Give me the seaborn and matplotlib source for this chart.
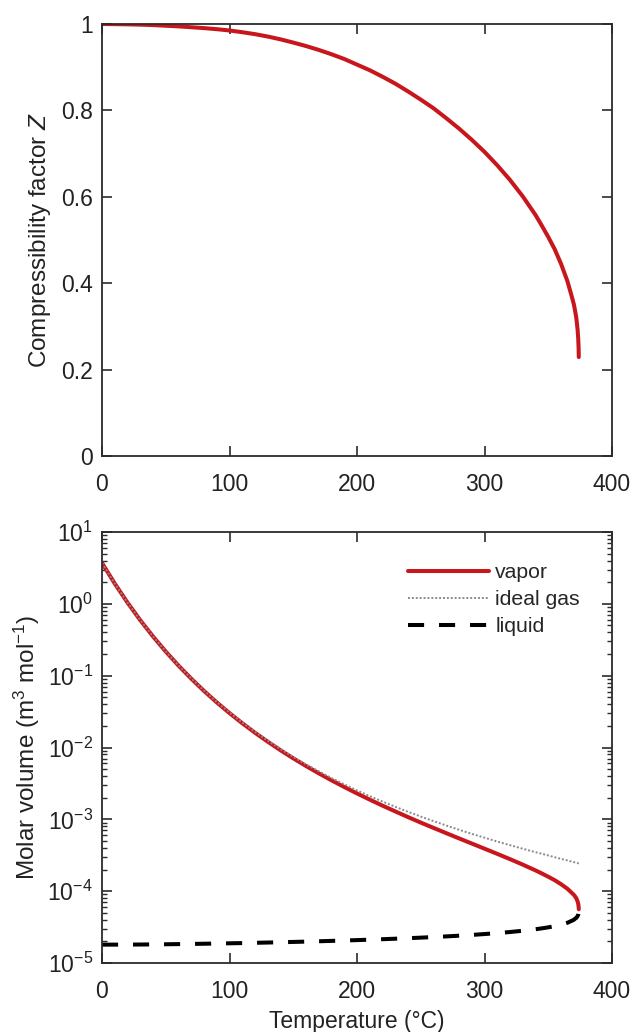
import numpy as np
import pandas as pd
import matplotlib
matplotlib.use("Agg")
import matplotlib.pyplot as plt
import matplotlib.ticker as mticker
import seaborn as sns

# ---------------- data ----------------
# Temperatures (°C) along the saturation curve
temp_c = [0, 10, 20, 30, 40, 50, 60, 70, 80, 90, 100, 110, 120, 130, 140,
          150, 160, 170, 180, 190, 200, 210, 220, 230, 240, 250, 260, 270,
          280, 290, 300, 310, 320, 330, 340, 345, 350, 355, 360, 365, 368,
          370, 371, 372, 373, 373.5, 373.8, 373.95]

# Compressibility factor Z of saturated vapor
z_vapor = [1.000, 0.9997, 0.9992, 0.9985, 0.9975, 0.996, 0.9945, 0.9925,
           0.9905, 0.988, 0.985, 0.981, 0.9765, 0.971, 0.9645, 0.957, 0.949,
           0.940, 0.930, 0.919, 0.906, 0.893, 0.878, 0.862, 0.844, 0.825,
           0.805, 0.782, 0.758, 0.732, 0.704, 0.673, 0.639, 0.601, 0.558,
           0.533, 0.507, 0.479, 0.445, 0.405, 0.374, 0.352, 0.337, 0.320,
           0.293, 0.272, 0.251, 0.229]

# Molar volumes (m^3 mol^-1)
v_vapor = [3.71, 1.915, 1.0405, 0.592, 0.3517, 0.2166, 0.1381, 0.0908,
           0.0613, 0.0425, 0.03012, 0.02179, 0.01605, 0.01204, 0.00916,
           0.007071, 0.005527, 0.004374, 0.003492, 0.002820, 0.002292,
           0.001881, 0.001551, 0.001290, 0.001075, 0.000901, 0.000760,
           0.000642, 0.000543, 0.0004606, 0.0003904, 0.0003306, 0.000279,
           0.0002342, 0.0001946, 0.0001762, 0.0001588, 0.0001423,
           0.0001252, 0.0001081, 9.64e-5, 8.92e-5, 8.47e-5, 7.96e-5,
           7.21e-5, 6.67e-5, 6.13e-5, 5.6e-5]

v_ideal = [3.71, 1.916, 1.0415, 0.593, 0.3528, 0.2175, 0.1389, 0.0915,
           0.0619, 0.0430, 0.03058, 0.02221, 0.01644, 0.01242, 0.00949,
           0.007389, 0.005818, 0.004658, 0.003756, 0.003070, 0.00253,
           0.002105, 0.001769, 0.001495, 0.001274, 0.001094, 0.000945,
           0.000821, 0.000716, 0.000628, 0.000555, 0.000491, 0.000437,
           0.000390, 0.000349, 0.000332, 0.000314, 0.000297, 0.000282,
           0.000268, 0.000259, 0.000254, 0.000251, 0.000249, 0.000246,
           0.000245, 0.000244, 0.000244]

v_liquid = [1.802e-5, 1.802e-5, 1.805e-5, 1.808e-5, 1.8155e-5, 1.823e-5,
            1.8325e-5, 1.843e-5, 1.854e-5, 1.866e-5, 1.880e-5, 1.894e-5,
            1.910e-5, 1.927e-5, 1.945e-5, 1.965e-5, 1.985e-5, 2.007e-5,
            2.031e-5, 2.056e-5, 2.083e-5, 2.112e-5, 2.144e-5, 2.178e-5,
            2.214e-5, 2.254e-5, 2.298e-5, 2.346e-5, 2.400e-5, 2.460e-5,
            2.529e-5, 2.607e-5, 2.700e-5, 2.811e-5, 2.950e-5, 3.037e-5,
            3.136e-5, 3.257e-5, 3.414e-5, 3.630e-5, 3.840e-5, 3.990e-5,
            4.130e-5, 4.250e-5, 4.500e-5, 4.680e-5, 5.040e-5, 5.6e-5]

x_ticks = [0, 100, 200, 300, 400]
z_ticks = [0, 0.2, 0.4, 0.6, 0.8, 1]
v_ticks = [1e-5, 1e-4, 1e-3, 1e-2, 1e-1, 1e0, 1e1]

# ---------------- style ----------------
sns.set_style("ticks")
plt.rcParams["font.family"] = ["Liberation Sans", "DejaVu Sans"]
plt.rcParams["mathtext.fontset"] = "custom"
plt.rcParams["mathtext.rm"] = "Liberation Sans"
plt.rcParams["mathtext.it"] = "Liberation Sans:italic"
plt.rcParams["mathtext.default"] = "regular"

FS_TICK = 16.5
FS_LAB = 17.5
SPINE = "#2b2b2b"
TXT = "#222222"
RED = "#c8161d"
LW = 2.9

df = pd.DataFrame({"T": temp_c, "Z": z_vapor, "vap": v_vapor,
                   "ideal": v_ideal, "liq": v_liquid})

fig = plt.figure(figsize=(6.33, 10.32), dpi=100)
L, W = 102/633, 510/633
ax1 = fig.add_axes([L, 1-456/1032, W, 432/1032])
ax2 = fig.add_axes([L, 1-963/1032, W, 431/1032])

# top panel
sns.lineplot(data=df, x="T", y="Z", ax=ax1, color=RED, lw=LW,
             sort=False, estimator=None)
ax1.set_xlim(0, 400)
ax1.set_ylim(0, 1)
ax1.set_xticks(x_ticks)
ax1.set_yticks(z_ticks)
ax1.yaxis.set_major_formatter(mticker.FuncFormatter(lambda v, p: f"{v:g}"))
ax1.set_xlabel("")
ax1.set_ylabel("Compressibility factor $\\mathit{Z}$", fontsize=FS_LAB)
ax1.yaxis.set_label_coords(-0.097, 0.5)

# bottom panel
sns.lineplot(data=df, x="T", y="vap", ax=ax2, color=RED, lw=LW,
             sort=False, estimator=None, label="vapor")
sns.lineplot(data=df, x="T", y="ideal", ax=ax2, color="#8a8a8a", lw=1.4,
             sort=False, estimator=None, label="ideal gas",
             linestyle=(0, (1, 1)))
sns.lineplot(data=df, x="T", y="liq", ax=ax2, color="black", lw=LW,
             sort=False, estimator=None, label="liquid",
             linestyle=(0, (4.0, 3.7)))
ax2.set_yscale("log")
ax2.set_xlim(0, 400)
ax2.set_ylim(1e-5, 10)
ax2.set_xticks(x_ticks)
ax2.yaxis.set_major_locator(mticker.FixedLocator(v_ticks))
ax2.yaxis.set_major_formatter(mticker.LogFormatterSciNotation())
ax2.yaxis.set_minor_locator(mticker.LogLocator(base=10, subs=np.arange(2, 10), numticks=20))
ax2.yaxis.set_minor_formatter(mticker.NullFormatter())
ax2.set_xlabel("Temperature (°C)", fontsize=16.5)
ax2.xaxis.set_label_coords(0.5, -0.108)
ax2.set_ylabel("Molar volume (m$^3$ mol$^{-1}$)", fontsize=FS_LAB)
ax2.yaxis.set_label_coords(-0.118, 0.5)

leg = ax2.legend(loc="upper right", frameon=False, fontsize=15.3,
                 handlelength=3.8, handletextpad=0.3, labelspacing=0.38,
                 bbox_to_anchor=(0.954, 0.947), borderaxespad=0)

for ax in (ax1, ax2):
    for s in ax.spines.values():
        s.set_visible(True)
        s.set_color(SPINE)
        s.set_linewidth(1.3)
    ax.tick_params(which="major", direction="in", length=7, width=1.2,
                   colors=SPINE, labelcolor=TXT, labelsize=FS_TICK,
                   top=True, right=True)
    ax.tick_params(axis="x", which="major", pad=12.5)
    ax.tick_params(axis="y", which="major", pad=6.5)
    ax.tick_params(which="minor", direction="in", length=3.5, width=1.0,
                   colors=SPINE, top=False, right=True)
    ax.yaxis.label.set_color(TXT)
    ax.xaxis.label.set_color(TXT)

fig.savefig("out.png", dpi=100)
